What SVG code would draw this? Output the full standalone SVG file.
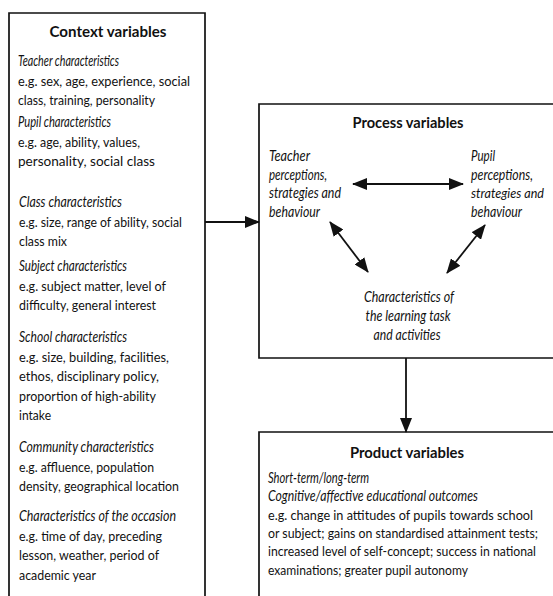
<svg xmlns="http://www.w3.org/2000/svg" width="553" height="596" viewBox="0 0 553 596">
<defs>
<style>
.box{fill:none;stroke:#111;stroke-width:1.7}
.t{font-family:Lato,"Liberation Sans",sans-serif;font-size:14px;fill:#111}
.i{font-style:italic;font-size:15px}
.s{font-size:13px}
.h{font-family:Lato,"Liberation Sans",sans-serif;font-size:15px;font-weight:bold;fill:#111}
.c{text-anchor:middle}
.ln{stroke:#111;stroke-width:1.8;fill:none}
</style>
<marker id="ah" markerUnits="userSpaceOnUse" markerWidth="15" markerHeight="12" refX="14" refY="6" orient="auto-start-reverse">
<path d="M0,0 L15,6 L0,12 Z" fill="#111"/>
</marker>
</defs>
<rect width="553" height="596" fill="#fff"/>

<g id="context">
<path class="box" d="M9,596 V13 H205 V596"/>
<text class="h c" x="108" y="37" textLength="117" lengthAdjust="spacingAndGlyphs">Context variables</text>
<text class="t i" x="18" y="66" textLength="101" lengthAdjust="spacingAndGlyphs">Teacher characteristics</text>
<text class="t" x="18" y="85.5" textLength="172" lengthAdjust="spacingAndGlyphs">e.g. sex, age, experience, social</text>
<text class="t" x="18" y="105" textLength="137" lengthAdjust="spacingAndGlyphs">class, training, personality</text>
<text class="t i" x="18" y="127" textLength="93" lengthAdjust="spacingAndGlyphs">Pupil characteristics</text>
<text class="t" x="18" y="146.5" textLength="122" lengthAdjust="spacingAndGlyphs">e.g. age, ability, values,</text>
<text class="t" x="18" y="166" textLength="137" lengthAdjust="spacingAndGlyphs">personality, social class</text>
<text class="t i" x="19" y="207" textLength="103" lengthAdjust="spacingAndGlyphs">Class characteristics</text>
<text class="t" x="19" y="226.5" textLength="163" lengthAdjust="spacingAndGlyphs">e.g. size, range of ability, social</text>
<text class="t" x="19" y="246" textLength="48" lengthAdjust="spacingAndGlyphs">class mix</text>
<text class="t i" x="19" y="271" textLength="108" lengthAdjust="spacingAndGlyphs">Subject characteristics</text>
<text class="t" x="19" y="290.5" textLength="147" lengthAdjust="spacingAndGlyphs">e.g. subject matter, level of</text>
<text class="t" x="19" y="310" textLength="137" lengthAdjust="spacingAndGlyphs">difficulty, general interest</text>
<text class="t i" x="19" y="342" textLength="108" lengthAdjust="spacingAndGlyphs">School characteristics</text>
<text class="t" x="19" y="361.5" textLength="150" lengthAdjust="spacingAndGlyphs">e.g. size, building, facilities,</text>
<text class="t" x="19" y="381" textLength="140" lengthAdjust="spacingAndGlyphs">ethos, disciplinary policy,</text>
<text class="t" x="19" y="400.5" textLength="137" lengthAdjust="spacingAndGlyphs">proportion of high-ability</text>
<text class="t" x="19" y="420" textLength="32" lengthAdjust="spacingAndGlyphs">intake</text>
<text class="t i" x="19" y="452" textLength="135" lengthAdjust="spacingAndGlyphs">Community characteristics</text>
<text class="t" x="19" y="471.5" textLength="135" lengthAdjust="spacingAndGlyphs">e.g. affluence, population</text>
<text class="t" x="19" y="491" textLength="160" lengthAdjust="spacingAndGlyphs">density, geographical location</text>
<text class="t i" x="19" y="521" textLength="157" lengthAdjust="spacingAndGlyphs">Characteristics of the occasion</text>
<text class="t" x="19" y="540.5" textLength="143" lengthAdjust="spacingAndGlyphs">e.g. time of day, preceding</text>
<text class="t" x="19" y="560" textLength="140" lengthAdjust="spacingAndGlyphs">lesson, weather, period of</text>
<text class="t" x="19" y="579.5" textLength="77" lengthAdjust="spacingAndGlyphs">academic year</text>
</g>

<g id="process">
<path class="box" d="M553,104 H259 V358 H553"/>
<text class="h c" x="408" y="128" textLength="111" lengthAdjust="spacingAndGlyphs">Process variables</text>
<text class="t i" x="269" y="161" textLength="41" lengthAdjust="spacingAndGlyphs">Teacher</text>
<text class="t i" x="269" y="179.5" textLength="58" lengthAdjust="spacingAndGlyphs">perceptions,</text>
<text class="t i" x="269" y="198" textLength="72" lengthAdjust="spacingAndGlyphs">strategies and</text>
<text class="t i" x="269" y="216.5" textLength="51" lengthAdjust="spacingAndGlyphs">behaviour</text>
<text class="t i" x="471" y="161" textLength="24" lengthAdjust="spacingAndGlyphs">Pupil</text>
<text class="t i" x="471" y="179.5" textLength="62" lengthAdjust="spacingAndGlyphs">perceptions,</text>
<text class="t i s" x="471" y="198" textLength="73" lengthAdjust="spacingAndGlyphs">strategies and</text>
<text class="t i" x="471" y="216.5" textLength="51" lengthAdjust="spacingAndGlyphs">behaviour</text>
<text class="t i c" x="409" y="302" textLength="90" lengthAdjust="spacingAndGlyphs">Characteristics of</text>
<text class="t i c" x="408" y="321" textLength="85" lengthAdjust="spacingAndGlyphs">the learning task</text>
<text class="t i c" x="407" y="340" textLength="67" lengthAdjust="spacingAndGlyphs">and activities</text>
</g>

<g id="product">
<path class="box" d="M553,432 H259 V596"/>
<text class="h c" x="407" y="458" textLength="114" lengthAdjust="spacingAndGlyphs">Product variables</text>
<text class="t i" x="268" y="483" textLength="101" lengthAdjust="spacingAndGlyphs">Short-term/long-term</text>
<text class="t i" x="268" y="501" textLength="210" lengthAdjust="spacingAndGlyphs">Cognitive/affective educational outcomes</text>
<text class="t s" x="268" y="519.5" textLength="265" lengthAdjust="spacingAndGlyphs">e.g. change in attitudes of pupils towards school</text>
<text class="t s" x="268" y="538" textLength="270" lengthAdjust="spacingAndGlyphs">or subject; gains on standardised attainment tests;</text>
<text class="t s" x="268" y="556" textLength="268" lengthAdjust="spacingAndGlyphs">increased level of self-concept; success in national</text>
<text class="t s" x="268" y="574.5" textLength="200" lengthAdjust="spacingAndGlyphs">examinations; greater pupil autonomy</text>
</g>

<g id="connectors">
<line class="ln" x1="205" y1="222" x2="259" y2="222" marker-end="url(#ah)"/>
<line class="ln" x1="406" y1="358" x2="406" y2="432" marker-end="url(#ah)"/>
<line class="ln" x1="353" y1="184" x2="463" y2="184" marker-start="url(#ah)" marker-end="url(#ah)"/>
<line class="ln" x1="330" y1="222" x2="368" y2="272" marker-start="url(#ah)" marker-end="url(#ah)"/>
<line class="ln" x1="485" y1="225" x2="447" y2="273" marker-start="url(#ah)" marker-end="url(#ah)"/>
</g>
</svg>
